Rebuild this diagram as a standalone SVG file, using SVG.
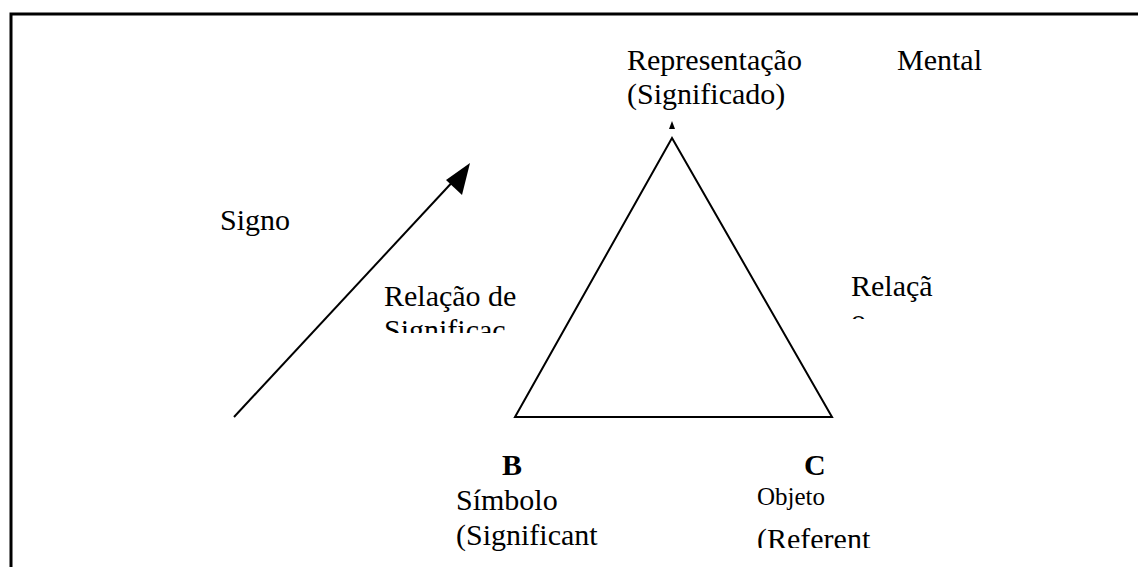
<svg xmlns="http://www.w3.org/2000/svg" width="1138" height="567" viewBox="0 0 1138 567">
<style>
text{font-family:"Liberation Serif","Times New Roman",serif;font-size:30px;fill:#000}
.b{font-weight:bold}
.s{font-size:25px}
.ln{stroke:#000;stroke-width:2;fill:none}
.fr{stroke:#000;stroke-width:3;fill:none}
</style>
<defs>
<clipPath id="c1"><rect x="370" y="0" width="200" height="333"/></clipPath>
<clipPath id="c2"><rect x="840" y="0" width="120" height="319"/></clipPath>
<clipPath id="c3"><rect x="440" y="0" width="200" height="553"/></clipPath>
<clipPath id="c4"><rect x="740" y="0" width="200" height="548"/></clipPath>
</defs>
<rect width="1138" height="567" fill="#fff"/>
<g id="frame">
<path class="fr" d="M11,567 L11,14 L1138,14"/>
</g>
<g id="connectors">
<line class="ln" x1="234" y1="417" x2="458" y2="176"/>
<path d="M470,163 L446,180 L462,195 Z" fill="#000"/>
<path d="M672,121 L675,129 L669,129 Z" fill="#000"/>
</g>
<g id="triangle">
<path class="ln" d="M672,138 L832,417 L515,417 Z"/>
</g>
<g id="node-a">
<text x="627" y="70">Representação</text>
<text x="897" y="70">Mental</text>
<text x="627" y="104">(Significado)</text>
</g>
<g id="node-signo">
<text x="220" y="230">Signo</text>
</g>
<g id="node-rel1" clip-path="url(#c1)">
<text x="384" y="306">Relação de</text>
<text x="384" y="340">Significaç</text>
</g>
<g id="node-rel2" clip-path="url(#c2)">
<text x="851" y="296">Relaçã</text>
<text x="851" y="330">o</text>
</g>
<g id="node-b" clip-path="url(#c3)">
<text class="b" x="502" y="475">B</text>
<text x="456" y="510">Símbolo</text>
<text x="456" y="545">(Significant</text>
</g>
<g id="node-c" clip-path="url(#c4)">
<text class="b" x="804" y="475">C</text>
<text class="s" x="757" y="505">Objeto</text>
<text x="757" y="549">(Referent</text>
</g>
</svg>
